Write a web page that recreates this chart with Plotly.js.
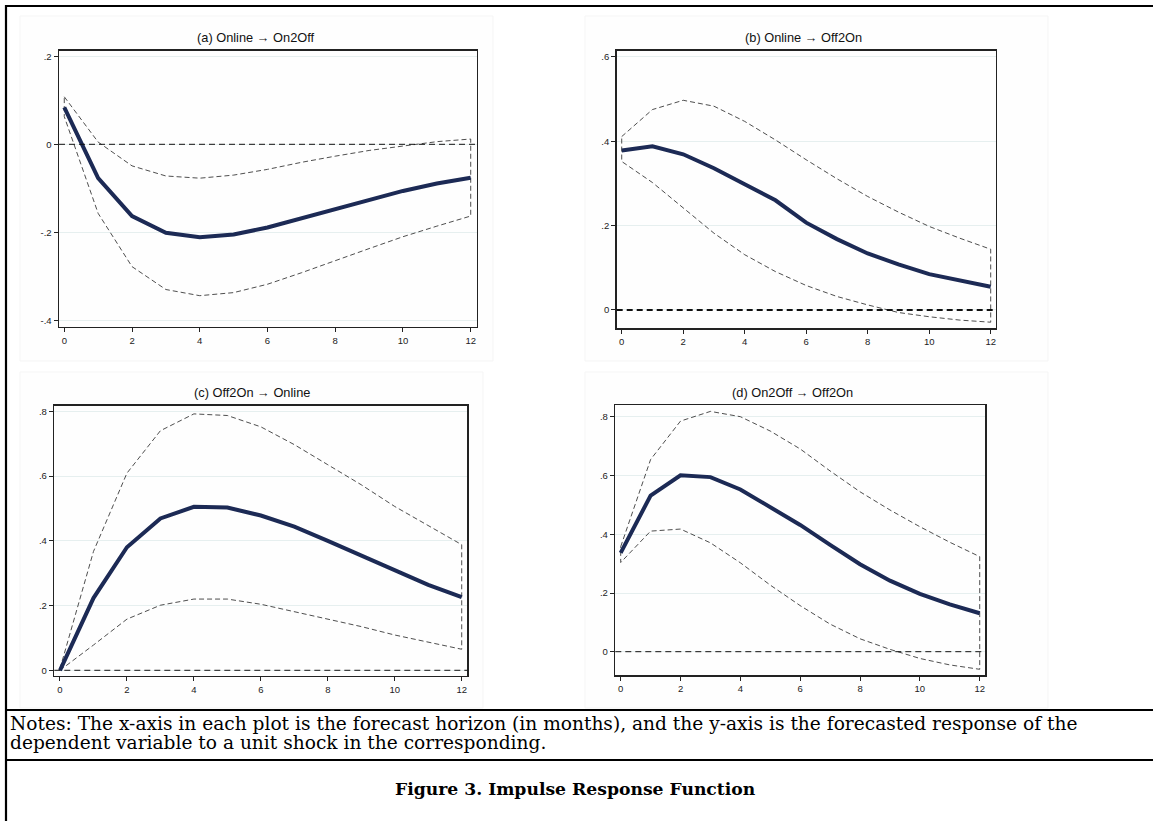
<!DOCTYPE html>
<html>
<head>
<meta charset="utf-8">
<script src="https://cdn.plot.ly/plotly-3.0.1.min.js"></script>
<style>html,body{margin:0;padding:0;background:#fff;}#chart{width:1153px;height:821px;}</style>
</head>
<body>
<div id="chart"></div>
<script>
// ---- data ----
const horizon = [0,1,2,3,4,5,6,7,8,9,10,11,12];

const titleA = "(a) Online \u2192 On2Off";
const irfA   = [0.084,-0.077,-0.163,-0.201,-0.211,-0.205,-0.189,-0.168,-0.147,-0.127,-0.106,-0.089,-0.076];
const upperA = [0.108,0.005,-0.049,-0.072,-0.077,-0.070,-0.057,-0.041,-0.027,-0.014,-0.004,0.006,0.012];
const lowerA = [0.063,-0.157,-0.278,-0.330,-0.344,-0.337,-0.318,-0.292,-0.265,-0.237,-0.210,-0.186,-0.163];

const titleB = "(b) Online \u2192 Off2On";
const irfB   = [0.378,0.388,0.369,0.336,0.298,0.260,0.207,0.168,0.134,0.108,0.085,0.069,0.055];
const upperB = [0.411,0.475,0.497,0.483,0.447,0.403,0.356,0.311,0.269,0.232,0.198,0.170,0.144];
const lowerB = [0.352,0.302,0.241,0.182,0.131,0.091,0.058,0.032,0.012,-0.006,-0.016,-0.024,-0.029];

const titleC = "(c) Off2On \u2192 Online";
const irfC   = [0.000,0.223,0.380,0.469,0.505,0.503,0.478,0.444,0.400,0.354,0.307,0.264,0.226];
const upperC = [0.005,0.367,0.609,0.740,0.792,0.787,0.752,0.697,0.635,0.573,0.506,0.446,0.388];
const lowerC = [0.000,0.078,0.158,0.201,0.220,0.220,0.204,0.181,0.158,0.135,0.109,0.086,0.065];

const titleD = "(d) On2Off \u2192 Off2On";
const irfD   = [0.337,0.532,0.601,0.595,0.553,0.494,0.432,0.364,0.298,0.242,0.197,0.161,0.131];
const upperD = [0.358,0.655,0.786,0.819,0.801,0.752,0.691,0.616,0.545,0.483,0.426,0.373,0.324];
const lowerD = [0.304,0.411,0.418,0.371,0.303,0.227,0.157,0.094,0.044,0.008,-0.023,-0.045,-0.060];

const xTickVals = [0,2,4,6,8,10,12];
const yTicksA = {vals:[0.2,0,-0.2,-0.4], text:[".2","0","-.2","-.4"]};
const yTicksB = {vals:[0.6,0.4,0.2,0], text:[".6",".4",".2","0"]};
const yTicksC = {vals:[0.8,0.6,0.4,0.2,0], text:[".8",".6",".4",".2","0"]};
const yTicksD = {vals:[0.8,0.6,0.4,0.2,0], text:[".8",".6",".4",".2","0"]};

const notesLine1 = "Notes: The x-axis in each plot is the forecast horizon (in months), and the y-axis is the forecasted response of the";
const notesLine2 = "dependent variable to a unit shock in the corresponding.";
const captionText = "<b>Figure 3. Impulse Response Function</b>";

// ---- layout helpers ----
const W = 1153, H = 821;
const px = v => v / W;
const py = v => 1 - v / H;

const panels = [
  {title:titleA, irf:irfA, up:upperA, lo:lowerA, ticks:yTicksA, xd:[59,476.7],  yd:[50.7,326.7], xr:[-0.156,12.177], yr:[-0.4145,0.2127], zeroW:1,   tx:256, ty:37},
  {title:titleB, irf:irfB, up:upperB, lo:lowerB, ticks:yTicksB, xd:[616.7,995.7], yd:[50.7,328.3], xr:[-0.163,12.163], yr:[-0.0434,0.6145], zeroW:2.2, tx:803, ty:37},
  {title:titleC, irf:irfC, up:upperC, lo:lowerC, ticks:yTicksC, xd:[54.3,467.3], yd:[405.7,675.7], xr:[-0.170,12.167], yr:[-0.0167,0.8173], zeroW:1,   tx:252, ty:392},
  {title:titleD, irf:irfD, up:upperD, lo:lowerD, ticks:yTicksD, xd:[615.3,985.3], yd:[405,675],     xr:[-0.180,12.187], yr:[-0.0794,0.8408], zeroW:1,   tx:792, ty:392}
];

const traces = [];
const layout = {
  width: W, height: H, autosize: false,
  margin: {l:0, r:0, t:0, b:0, pad:0},
  paper_bgcolor: "#ffffff", plot_bgcolor: "#ffffff",
  showlegend: false,
  shapes: [], annotations: []
};

// faint graph-region backgrounds
const regions = [[20,16,493,361],[585,16,1048,361],[20,372,483,708],[585,372,1048,708]];
regions.forEach(r => layout.shapes.push({type:"rect", xref:"paper", yref:"paper",
  x0:px(r[0]), x1:px(r[2]), y0:py(r[3]), y1:py(r[1]),
  fillcolor:"#fefefe", line:{color:"#f5f5f5", width:1}, layer:"below"}));

panels.forEach((p, i) => {
  const n = i === 0 ? "" : String(i + 1);
  const xa = "x" + n, ya = "y" + n;
  // CI outline as closed polygon
  const ciX = horizon.concat(horizon.slice().reverse(), [horizon[0]]);
  const ciY = p.up.concat(p.lo.slice().reverse(), [p.up[0]]);
  traces.push({x:ciX, y:ciY, xaxis:xa, yaxis:ya, mode:"lines", type:"scatter",
    line:{color:"#3a3a3a", width:0.9, dash:"5px,3px"}, hoverinfo:"skip"});
  traces.push({x:horizon, y:p.irf, xaxis:xa, yaxis:ya, mode:"lines", type:"scatter",
    line:{color:"#1c2a55", width:4}, hoverinfo:"skip"});

  layout["xaxis" + n] = {
    domain:[px(p.xd[0]), px(p.xd[1])], range:p.xr, anchor:ya,
    tickmode:"array", tickvals:xTickVals, ticktext:xTickVals.map(String),
    ticks:"outside", ticklen:4, tickwidth:1, tickcolor:"#222",
    showgrid:false, zeroline:false,
    showline:true, linecolor:"#222", linewidth:1.5, mirror:true,
    tickfont:{family:"Liberation Sans, Arial, sans-serif", size:9.5, color:"#222"}
  };
  layout["yaxis" + n] = {
    domain:[py(p.yd[1]), py(p.yd[0])], range:p.yr, anchor:xa,
    tickmode:"array", tickvals:p.ticks.vals, ticktext:p.ticks.text,
    ticks:"outside", ticklen:4, tickwidth:1, tickcolor:"#222",
    showgrid:true, gridcolor:"#e6efef", gridwidth:1, zeroline:false,
    showline:true, linecolor:"#222", linewidth:1.5, mirror:true,
    tickfont:{family:"Liberation Sans, Arial, sans-serif", size:9.5, color:"#222"}
  };
  // zero reference line
  layout.shapes.push({type:"line", xref:xa + " domain", yref:ya, x0:0, x1:1, y0:0, y1:0,
    line:{color:"#111", width:p.zeroW, dash:"6px,4px"}, layer:"above"});
  // panel title
  layout.annotations.push({text:p.title, xref:"paper", yref:"paper", x:px(p.tx), y:py(p.ty),
    xanchor:"center", yanchor:"middle", showarrow:false,
    font:{family:"Liberation Sans, Arial, sans-serif", size:12.8, color:"#111"}});
});

// frame lines
const frame = [
  [5,6,W,6],[6,5,6,H],[5,710,W,710],[5,760,W,760]
];
frame.forEach(f => layout.shapes.push({type:"line", xref:"paper", yref:"paper",
  x0:px(f[0]), x1:px(f[2]), y0:py(f[1]), y1:py(f[3]), line:{color:"#000", width:2.2}}));

layout.annotations.push({text:notesLine1, xref:"paper", yref:"paper", x:px(8), y:py(723.5),
  xanchor:"left", yanchor:"middle", align:"left", showarrow:false,
  font:{family:"DejaVu Serif, serif", size:18.6, color:"#000"}});
layout.annotations.push({text:notesLine2, xref:"paper", yref:"paper", x:px(8), y:py(742.5),
  xanchor:"left", yanchor:"middle", align:"left", showarrow:false,
  font:{family:"DejaVu Serif, serif", size:18.6, color:"#000"}});
layout.annotations.push({text:captionText, xref:"paper", yref:"paper", x:px(575), y:py(789),
  xanchor:"center", yanchor:"middle", showarrow:false,
  font:{family:"DejaVu Serif, serif", size:17.2, color:"#000"}});

Plotly.newPlot("chart", traces, layout, {staticPlot:true, displayModeBar:false});
</script>
</body>
</html>
